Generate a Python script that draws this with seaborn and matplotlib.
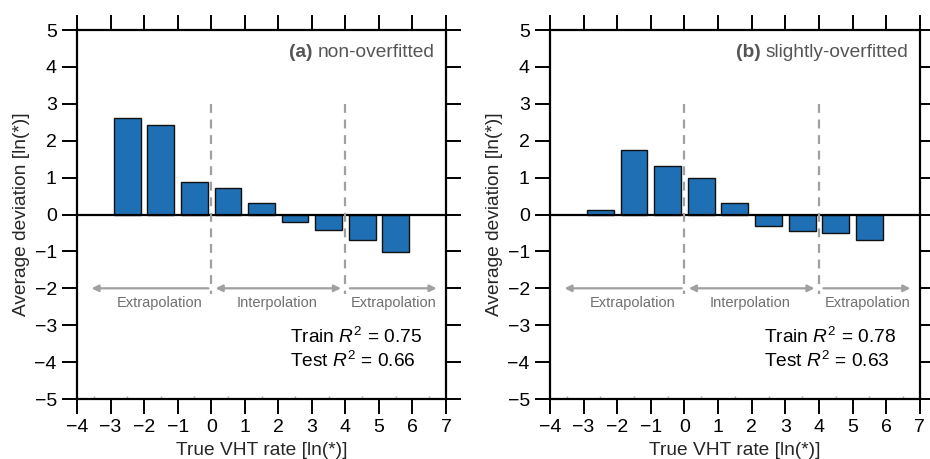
import matplotlib
matplotlib.use("Agg")
import matplotlib.pyplot as plt
from matplotlib.ticker import MultipleLocator
import seaborn as sns
import pandas as pd

sns.set_theme(style="white")
plt.rcParams['font.family'] = ['Liberation Sans', 'DejaVu Sans']
plt.rcParams['mathtext.fontset'] = 'custom'
plt.rcParams['mathtext.it'] = 'Liberation Sans:italic'
plt.rcParams['mathtext.rm'] = 'Liberation Sans'

bin_centers = [-2.5, -1.5, -0.5, 0.5, 1.5, 2.5, 3.5, 4.5, 5.5]
dev_a = [2.61, 2.42, 0.87, 0.72, 0.31, -0.19, -0.42, -0.70, -1.02]
dev_b = [0.13, 1.74, 1.31, 0.98, 0.30, -0.31, -0.45, -0.51, -0.70]
panel_tags = ["(a)", "(b)"]
panel_names = ["non-overfitted", "slightly-overfitted"]
train_r2 = ["0.75", "0.78"]
test_r2 = ["0.66", "0.63"]
region_labels = ["Extrapolation", "Interpolation", "Extrapolation"]
xticks = list(range(-4, 8))
yticks = list(range(-5, 6))

fig = plt.figure(figsize=(9.3, 4.59), dpi=100)
axes = [fig.add_axes([0.0828, 0.1307, 0.3968, 0.8039]),
        fig.add_axes([0.5914, 0.1307, 0.3976, 0.8039])]

gray = "#a0a0a0"
FS = 13.8
for i, (ax, dev) in enumerate(zip(axes, [dev_a, dev_b])):
    df = pd.DataFrame({"x": bin_centers, "y": dev})
    sns.barplot(data=df, x="x", y="y", native_scale=True, color="#1f6fb4",
                saturation=1, edgecolor="#111111", linewidth=1.0, ax=ax, width=0.8, zorder=2)
    ax.axhline(0, color="black", lw=1.6, zorder=3)
    ax.set_xlim(-4, 7)
    ax.set_ylim(-5, 5)
    ax.set_xticks(xticks)
    ax.set_yticks(yticks)
    ax.set_xticklabels([str(t).replace("-", "\u2212") for t in xticks])
    ax.set_yticklabels([str(t).replace("-", "\u2212") for t in yticks])
    ax.tick_params(axis="both", which="major", direction="out", length=10.5, width=1.4,
                   labelsize=14, colors="black", top=True, right=True,
                   bottom=True, left=True, pad=4)
    ax.xaxis.set_minor_locator(MultipleLocator(0.5))
    ax.tick_params(axis="x", which="minor", direction="in", length=2, width=1.0,
                   color="#aaaaaa", bottom=True, top=False)
    for s in ax.spines.values():
        s.set_visible(True)
        s.set_color("black")
        s.set_linewidth(1.6)
    ax.set_xlabel("True VHT rate [ln(*)]", fontsize=FS, labelpad=4)
    ax.set_ylabel("Average deviation [ln(*)]", fontsize=FS, labelpad=3)

    for xv in [0, 4]:
        ax.plot([xv, xv], [3.0, -2.15], color=gray, lw=1.6, ls=(0, (4, 3)), zorder=4)
    akw = dict(color=gray, lw=1.6, mutation_scale=10)
    ax.annotate("", xy=(-3.65, -2.0), xytext=(0, -2.0),
                arrowprops=dict(arrowstyle="-|>", **akw))
    ax.annotate("", xy=(0.05, -2.0), xytext=(3.95, -2.0),
                arrowprops=dict(arrowstyle="<|-|>", **akw))
    ax.annotate("", xy=(6.8, -2.0), xytext=(4.05, -2.0),
                arrowprops=dict(arrowstyle="-|>", **akw))
    for lx, lab in zip([-1.55, 1.95, 5.45], region_labels):
        ax.text(lx, -2.4, lab, ha="center", va="center", fontsize=10.5, color="#707070")

    ax.text(2.36, -3.32, "Train $R^2$ = " + train_r2[i], ha="left", va="center",
            fontsize=FS, color="black")
    ax.text(2.36, -3.97, "Test $R^2$ = " + test_r2[i], ha="left", va="center",
            fontsize=FS, color="black")

# panel titles: bold tag followed by plain name, right aligned
fig.canvas.draw()
for i, ax in enumerate(axes):
    name = ax.text(6.65, 4.4, panel_names[i], ha="right", va="center",
                   fontsize=FS, color="#555555")
    fig.canvas.draw()
    bb = name.get_window_extent()
    inv = ax.transData.inverted()
    x0 = inv.transform((bb.x0 - 5, bb.y0))[0]
    ax.text(x0, 4.4, panel_tags[i], ha="right", va="center", fontsize=FS,
            color="#555555", fontweight="bold")

fig.savefig("out.png", dpi=100)
